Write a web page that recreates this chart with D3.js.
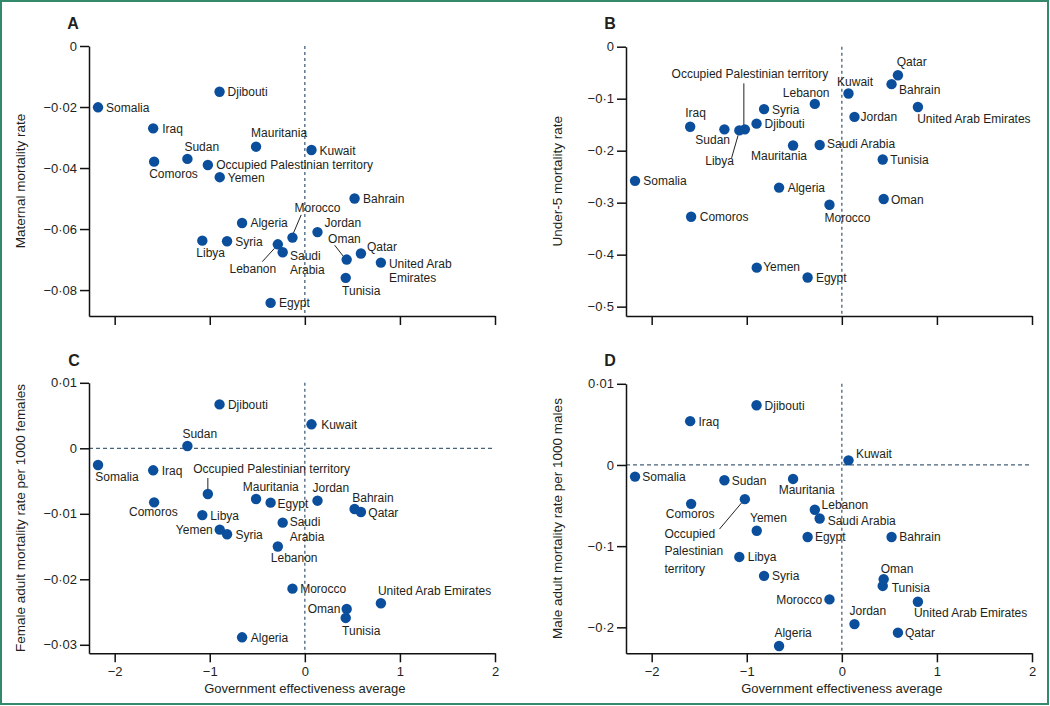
<!DOCTYPE html>
<html>
<head>
<meta charset="utf-8">
<script src="https://cdn.jsdelivr.net/npm/d3@7"></script>
<style>
html,body{margin:0;padding:0;background:#fff;}
svg{display:block;font-family:"Liberation Sans",Arial,sans-serif;}
</style>
</head>
<body>
<svg id="chart" width="1050" height="706"></svg>
<script>
// ---------------- DATA ----------------
const countries = ["Somalia","Iraq","Comoros","Sudan","Libya","Occupied Palestinian territory","Djibouti","Yemen","Syria","Algeria","Mauritania","Egypt","Lebanon","Saudi Arabia","Morocco","Kuwait","Jordan","Tunisia","Oman","Bahrain","Qatar","United Arab Emirates"];
const govEffectiveness = [-2.175,-1.595,-1.585,-1.235,-1.078,-1.02,-0.897,-0.895,-0.818,-0.66,-0.513,-0.36,-0.284,-0.233,-0.13,0.07,0.133,0.43,0.44,0.523,0.59,0.80];
const maternalMortality = [-0.0201,-0.027,-0.0379,-0.037,-0.0638,-0.039,-0.015,-0.043,-0.064,-0.058,-0.033,-0.0842,-0.065,-0.0676,-0.0628,-0.0341,-0.061,-0.076,-0.070,-0.050,-0.068,-0.071];
const under5Mortality = [-0.258,-0.154,-0.327,-0.159,-0.161,-0.159,-0.148,-0.425,-0.120,-0.271,-0.190,-0.444,-0.110,-0.189,-0.304,-0.090,-0.135,-0.217,-0.293,-0.072,-0.055,-0.116];
const femaleAdultMortality = [-0.00255,-0.00336,-0.00825,0.00035,-0.0102,-0.00698,0.0067,-0.01242,-0.01313,-0.02886,-0.00774,-0.0083,-0.0150,-0.01135,-0.02143,0.00366,-0.0080,-0.0259,-0.02453,-0.00927,-0.00973,-0.02366];
const maleAdultMortality = [-0.0143,0.054,-0.0479,-0.0188,-0.1133,-0.0421,0.0736,-0.081,-0.1366,-0.223,-0.0172,-0.0887,-0.0552,-0.0659,-0.1656,0.0057,-0.196,-0.149,-0.1407,-0.0887,-0.2066,-0.1685];

const xTickValues = [-2,-1,0,1,2];
const xTickLabels = ["−2","−1","0","1","2"];
const maternalTicks = [0,-0.02,-0.04,-0.06,-0.08];
const maternalTickLabels = ["0","−0·02","−0·04","−0·06","−0·08"];
const under5Ticks = [0,-0.1,-0.2,-0.3,-0.4,-0.5];
const under5TickLabels = ["0","−0·1","−0·2","−0·3","−0·4","−0·5"];
const femaleTicks = [0.01,0,-0.01,-0.02,-0.03];
const femaleTickLabels = ["0·01","0","−0·01","−0·02","−0·03"];
const maleTicks = [0.1,0,-0.1,-0.2];
const maleTickLabels = ["0·01","0","−0·1","−0·2"];

const panelLetters = ["A","B","C","D"];
const yTitles = ["Maternal mortality rate","Under-5 mortality rate","Female adult mortality rate per 1000 females","Male adult mortality rate per 1000 males"];
const xTitle = "Government effectiveness average";

// ---------------- LAYOUT (positions / styles) ----------------
const panels = [
  {letter:"A", ys:maternalMortality, ticks:maternalTicks, tickLabels:maternalTickLabels, yTitle:yTitles[0],
   x0:89, x1:495, yTop:46, yBot:316, yDom:[-0.0885,0], hLine:false, xLabels:false, lx:73, ly:29},
  {letter:"B", ys:under5Mortality, ticks:under5Ticks, tickLabels:under5TickLabels, yTitle:yTitles[1],
   x0:626, x1:1032, yTop:46.7, yBot:316, yDom:[-0.518,0], hLine:false, xLabels:false, lx:610, ly:29},
  {letter:"C", ys:femaleAdultMortality, ticks:femaleTicks, tickLabels:femaleTickLabels, yTitle:yTitles[2],
   x0:89, x1:495, yTop:382.8, yBot:653.3, yDom:[-0.0313,0.01], hLine:true, xLabels:true, lx:74, ly:366},
  {letter:"D", ys:maleAdultMortality, ticks:maleTicks, tickLabels:maleTickLabels, yTitle:yTitles[3],
   x0:626, x1:1032, yTop:383.8, yBot:653.3, yDom:[-0.232,0.1], hLine:true, xLabels:true, lx:610, ly:366}
];

const labelLayout = {
 A: {
  "Somalia":{dx:8},
  "Djibouti":{dx:8},
  "Iraq":{dx:9},
  "Sudan":{dx:-3,dy:-8},
  "Comoros":{dx:-5,dy:16},
  "Occupied Palestinian territory":{dx:8.4},
  "Yemen":{dx:8},
  "Mauritania":{dx:-5,dy:-10},
  "Kuwait":{dx:8},
  "Bahrain":{dx:8.5},
  "Morocco":{dx:2,dy:-25.7,leader:[1,-4.6,8.7,-22.7]},
  "Jordan":{dx:7,dy:-5},
  "Oman":{dx:-18.6,dy:-16.6,leader:[-3,-2.8,-12,-14.3]},
  "Qatar":{dx:6,dy:-2},
  "United Arab Emirates":{dx:8,dy:5,lines:["United Arab","Emirates"],lh:14},
  "Tunisia":{dx:-3.6,dy:17.3},
  "Egypt":{dx:8.5},
  "Algeria":{dx:8.3},
  "Syria":{dx:8.3},
  "Libya":{dx:-6,dy:16},
  "Lebanon":{dx:-1.6,dy:28.4,a:"end",leader:[-3.3,4,-15.6,17.4]},
  "Saudi Arabia":{dx:7.3,dy:7.7,lines:["Saudi","Arabia"],lh:14}
 },
 B: {
  "Occupied Palestinian territory":{dx:-73.3,dy:-51.6,leader:[-1,-4,-1,-46]},
  "Iraq":{dx:-5,dy:-9.4},
  "Sudan":{dx:5.6,dy:14.7,a:"end"},
  "Libya":{dx:-5.4,dy:34.7,a:"end",leader:[-1.3,5,-7.7,27.5]},
  "Djibouti":{dx:8},
  "Syria":{dx:8},
  "Lebanon":{dx:14.7,dy:-7.3,a:"end"},
  "Kuwait":{dx:-11.4,dy:-7.3},
  "Jordan":{dx:6},
  "Qatar":{dx:-1.3,dy:-9.3},
  "Bahrain":{dx:7.4,dy:9.7},
  "United Arab Emirates":{dx:-0.7,dy:16.3},
  "Saudi Arabia":{dx:7.4,dy:3},
  "Mauritania":{dx:14,dy:14.3,a:"end"},
  "Algeria":{dx:8.6},
  "Somalia":{dx:8.3},
  "Comoros":{dx:8.6},
  "Tunisia":{dx:7.6},
  "Oman":{dx:7.3},
  "Morocco":{dx:-5,dy:17},
  "Yemen":{dx:6.4,dy:3},
  "Egypt":{dx:8.3}
 },
 C: {
  "Djibouti":{dx:8.4},
  "Sudan":{dx:-5,dy:-7.7},
  "Somalia":{dx:-2.7,dy:15.7},
  "Iraq":{dx:8.6},
  "Occupied Palestinian territory":{dx:-14.6,dy:-21.3,leader:[0,-16,0,-5]},
  "Comoros":{dx:-0.8,dy:13.7,a:"middle"},
  "Libya":{dx:8},
  "Yemen":{dx:-7,dy:4,a:"end"},
  "Syria":{dx:8.4},
  "Algeria":{dx:8.7},
  "Kuwait":{dx:9.7},
  "Mauritania":{dx:-13.3,dy:-8},
  "Egypt":{dx:7,dy:5.5},
  "Jordan":{dx:-5,dy:-9},
  "Bahrain":{dx:-2.3,dy:-7.3},
  "Qatar":{dx:7.4},
  "Saudi Arabia":{dx:7,dy:3,lines:["Saudi","Arabia"],lh:15},
  "Lebanon":{dx:-7,dy:15},
  "Morocco":{dx:7.7},
  "United Arab Emirates":{dx:-3,dy:-8.3},
  "Oman":{dx:-6.3,a:"end"},
  "Tunisia":{dx:-3.6,dy:17}
 },
 D: {
  "Djibouti":{dx:8},
  "Iraq":{dx:8.3},
  "Somalia":{dx:7.3,dy:4},
  "Sudan":{dx:7.3},
  "Mauritania":{dx:-14.4,dy:15},
  "Comoros":{dx:-1,dy:13.7,a:"middle"},
  "Occupied Palestinian territory":{dx:-80.4,dy:39,lines:["Occupied","Palestinian","territory"],lh:17.2,leader:[-3,3.4,-25.4,30]},
  "Yemen":{dx:-6.7,dy:-8.3},
  "Libya":{dx:8.4},
  "Syria":{dx:8},
  "Algeria":{dx:-4.7,dy:-9.4},
  "Kuwait":{dx:7.4,dy:-2.6},
  "Lebanon":{dx:6.7,dy:-1},
  "Saudi Arabia":{dx:8,dy:6.3},
  "Egypt":{dx:7.3},
  "Bahrain":{dx:7.7},
  "Oman":{dx:-3,dy:-6},
  "Tunisia":{dx:9,dy:6},
  "Morocco":{dx:-7.3,a:"end"},
  "United Arab Emirates":{dx:-4,dy:15},
  "Jordan":{dx:-5,dy:-8.7},
  "Qatar":{dx:7}
 }
};

const DOT = "#0b4f9c";
const DASH = "#46617a";
const TEXT = "#231f20";

// ---------------- DRAW ----------------
const svg = d3.select("#chart");
svg.append("rect").attr("x",1).attr("y",1).attr("width",1047).attr("height",703)
  .attr("fill","#fff").attr("stroke","#34896a").attr("stroke-width",2);

panels.forEach(p => {
  const x = d3.scaleLinear().domain([-2.27,2]).range([p.x0, p.x1]);
  // adjust so that x=2 maps to x1 and -2.27 maps to x0
  const y = d3.scaleLinear().domain(p.yDom).range([p.yBot, p.yTop]);
  const g = svg.append("g");

  // reference dashed lines
  g.append("line").attr("x1",x(0)).attr("x2",x(0)).attr("y1",p.yTop).attr("y2",p.yBot)
    .attr("stroke",DASH).attr("stroke-width",1.3).attr("stroke-dasharray","3,3");
  if (p.hLine) {
    g.append("line").attr("x1",p.x0).attr("x2",p.x1).attr("y1",y(0)).attr("y2",y(0))
      .attr("stroke",DASH).attr("stroke-width",1.3).attr("stroke-dasharray","4,3");
  }

  // axes
  const xAxis = d3.axisBottom(x).tickValues(xTickValues).tickSize(9).tickSizeOuter(0).tickPadding(4)
    .tickFormat((d,i) => p.xLabels ? xTickLabels[i] : "");
  const gx = g.append("g").attr("transform",`translate(0,${p.yBot})`).call(xAxis);
  const yAxis = d3.axisLeft(y).tickValues(p.ticks).tickSize(9).tickSizeOuter(0).tickPadding(3)
    .tickFormat((d,i) => p.tickLabels[i]);
  const gy = g.append("g").attr("transform",`translate(${p.x0},0)`).call(yAxis);
  [gx,gy].forEach(a => {
    a.selectAll("path,line").attr("stroke","#111").attr("stroke-width",1.5);
    a.selectAll("text").attr("fill",TEXT).style("font-size","13px")
      .style("font-family",'"Liberation Sans",Arial,sans-serif');
  });

  // axis titles
  g.append("text")
    .attr("transform",`translate(${p.x0-69},${(p.yTop+p.yBot)/2}) rotate(-90)`)
    .attr("text-anchor","middle").attr("dy","0.35em")
    .attr("fill",TEXT).style("font-size","13.5px").text(p.yTitle);
  if (p.xLabels) {
    g.append("text").attr("x",x(0)).attr("y",693).attr("text-anchor","middle")
      .attr("fill",TEXT).style("font-size","13px").text(xTitle);
  }

  // panel letter
  g.append("text").attr("x",p.lx).attr("y",p.ly).attr("text-anchor","middle")
    .attr("fill",TEXT).style("font-size","16px").style("font-weight","bold").text(p.letter);

  const data = countries.map((c,i) => ({name:c, gx:govEffectiveness[i], v:p.ys[i], lay:labelLayout[p.letter][c] || {}}));

  // leaders
  g.selectAll("line.leader").data(data.filter(d => d.lay.leader)).enter().append("line")
    .attr("class","leader")
    .attr("x1",d => x(d.gx)+d.lay.leader[0]).attr("y1",d => y(d.v)+d.lay.leader[1])
    .attr("x2",d => x(d.gx)+d.lay.leader[2]).attr("y2",d => y(d.v)+d.lay.leader[3])
    .attr("stroke","#222").attr("stroke-width",1);

  // dots
  g.selectAll("circle").data(data).enter().append("circle")
    .attr("cx",d => x(d.gx)).attr("cy",d => y(d.v)).attr("r",5.2).attr("fill",DOT);

  // labels
  const lbl = g.selectAll("text.lbl").data(data).enter().append("text").attr("class","lbl")
    .attr("x",d => x(d.gx) + (d.lay.dx ?? 8))
    .attr("y",d => y(d.v) + (d.lay.dy ?? 4.5))
    .attr("text-anchor",d => d.lay.a || "start")
    .attr("fill",TEXT).style("font-size","12px");
  lbl.each(function(d){
    const t = d3.select(this);
    const lines = d.lay.lines || [d.name];
    const x0 = x(d.gx) + (d.lay.dx ?? 8);
    lines.forEach((ln,k) => {
      t.append("tspan").attr("x",x0).attr("dy",k===0?0:(d.lay.lh||14)).text(ln);
    });
  });
});
</script>
</body>
</html>
